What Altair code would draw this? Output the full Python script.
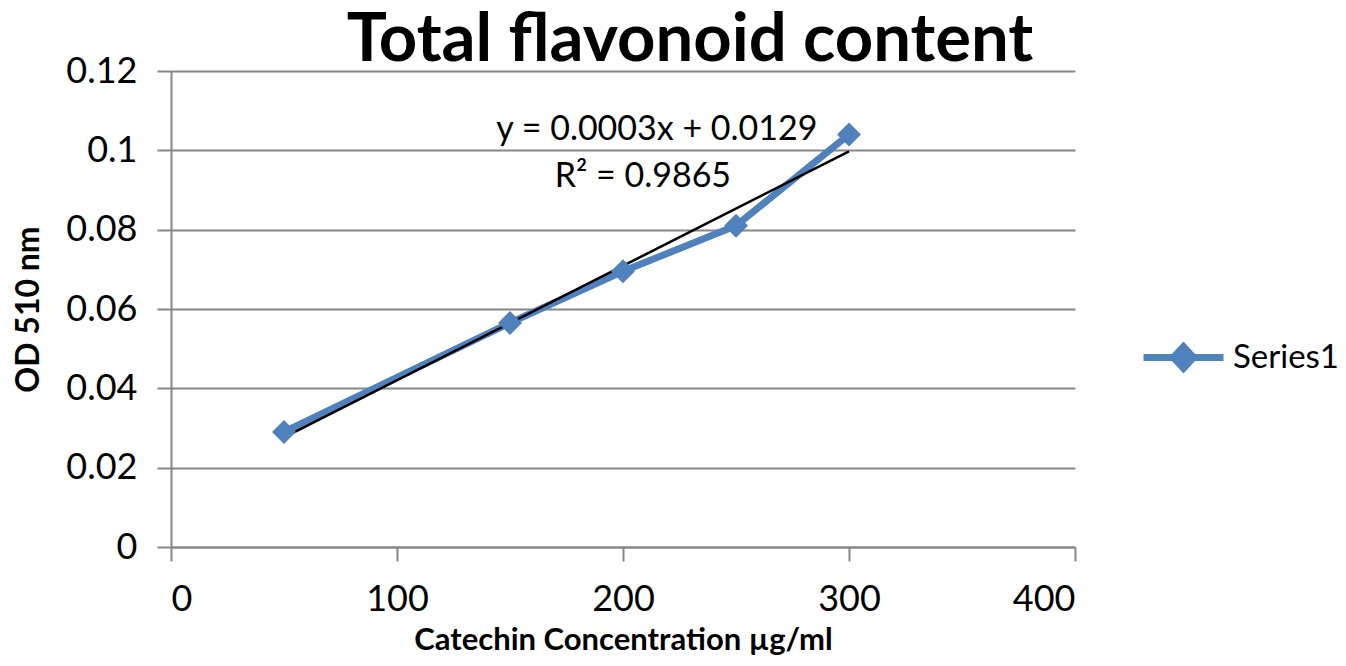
import altair as alt
import pandas as pd

# Data
conc = [50, 150, 200, 250, 300]
od = [0.029, 0.0565, 0.0695, 0.081, 0.104]
series_name = "Series1"
x_ticks = [0, 100, 200, 300, 400]
y_ticks = [0, 0.02, 0.04, 0.06, 0.08, 0.1, 0.12]
equation = "y = 0.0003x + 0.0129"
r_squared = "R² = 0.9865"

BLUE = "#4F81BD"
GRAY = "#868686"
FONT = "Lato"

df = pd.DataFrame({"conc": conc, "od": od, "series": [series_name] * len(conc)})

xs = alt.X("conc:Q", scale=alt.Scale(domain=[0, 400], nice=False),
           axis=alt.Axis(values=x_ticks, title="Catechin Concentration µg/ml", grid=False))
ys = alt.Y("od:Q", scale=alt.Scale(domain=[0, 0.12], nice=False),
           axis=alt.Axis(values=y_ticks, format="~g", title="OD 510 nm", grid=True))

base = alt.Chart(df)

line = base.mark_line(color=BLUE, strokeWidth=7).encode(x=xs, y=ys)

points = base.mark_point(shape="diamond", filled=True, size=576, opacity=1).encode(
    x=xs, y=ys,
    color=alt.Color("series:N", scale=alt.Scale(range=[BLUE]),
                    legend=alt.Legend(
                        title=None, orient="none", legendX=969, legendY=243, padding=0,
                        symbolType="M-1,0H-0.25M0.25,0H1M-0.25,0L0,-0.27L0.25,0L0,0.27Z",
                        symbolSize=6400, symbolStrokeWidth=7,
                        symbolStrokeColor=BLUE, symbolFillColor=BLUE,
                        labelFontSize=33, labelFont=FONT, labelColor="#000",
                        labelOffset=6)),
)

trend = base.transform_regression("conc", "od").mark_line(color="black", strokeWidth=2.5).encode(
    x="conc:Q", y="od:Q")

eq1 = alt.Chart(pd.DataFrame({"t": [equation]})).mark_text(
    font=FONT, fontSize=34, color="#000", align="center", baseline="middle").encode(
    x=alt.datum(215), y=alt.datum(0.1051), text="t:N")
eq2 = alt.Chart(pd.DataFrame({"t": [r_squared]})).mark_text(
    font=FONT, fontSize=34, color="#000", align="center", baseline="middle").encode(
    x=alt.datum(208.8), y=alt.datum(0.0933), text="t:N")

chart = alt.layer(line, trend, points, eq1, eq2).properties(
    width=904, height=476,
    title=alt.TitleParams("Total flavonoid content", font=FONT, fontSize=67,
                          fontWeight="bold", color="#000", anchor="middle", dx=67, offset=-22),
    autosize=alt.AutoSizeParams(type="none"),
    padding={"left": 163, "top": 63, "right": 263, "bottom": 111},
).configure_view(stroke=None).configure_axis(
    domainColor=GRAY, domainWidth=2, tickColor=GRAY, tickWidth=2, tickSize=14,
    gridColor=GRAY, gridWidth=2, labelFont=FONT, labelFontSize=36, labelColor="#000",
    titleFont=FONT, titleFontWeight="bold", titleColor="#000",
).configure_axisX(labelPadding=21, titleFontSize=31, titlePadding=8
).configure_axisY(labelPadding=20, titleFontSize=32, titlePadding=20)

chart.save("out.html", embed_options={"renderer": "svg", "actions": False})
